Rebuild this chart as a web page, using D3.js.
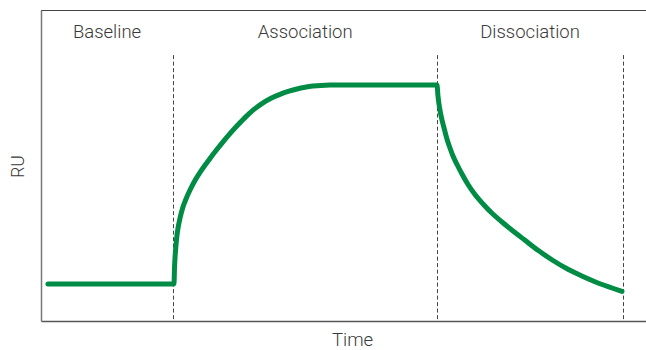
<!DOCTYPE html>
<html>
<head>
<meta charset="utf-8">
<script src="https://cdn.jsdelivr.net/npm/d3@7"></script>
<style>
  html, body { margin: 0; padding: 0; background: #fff; }
  svg { display: block; }
  text { font-family: "Helvetica Neue", Roboto, "Liberation Sans", Arial, sans-serif; font-weight: 300; fill: #3a3a3a; }
</style>
</head>
<body>
<svg id="chart" width="646" height="350"></svg>
<script>
// ---- Data (time in s, response in RU) ----
const phaseNames = ["Baseline", "Association", "Dissociation"];
const phaseBounds = [0, 131, 393, 577];   // phase start/end times (s)

const baselineTime = [6.9, 131.9];
const baselineRU   = [11.9, 11.9];

const assocTime = [131.9, 132.4, 132.9, 133.9, 134.9, 135.9, 137.9, 140.8, 143.8, 147.8, 152.7, 157.7, 162.6, 167.6, 173.6, 180.5, 187.4, 195.4, 203.3, 211.2, 220.2, 228.1, 237.0, 246.0, 253.9, 261.8, 269.8, 277.7, 286.6, 296.5, 392.7];
const assocRU   = [11.90, 17.04, 20.26, 24.44, 27.65, 29.90, 33.12, 36.66, 39.23, 42.12, 45.18, 47.75, 50.06, 52.28, 54.82, 57.62, 60.26, 63.09, 65.72, 68.04, 70.16, 71.64, 72.89, 73.89, 74.60, 75.14, 75.53, 75.76, 75.87, 75.88, 75.88];

const dissocTime = [392.7, 393.7, 394.7, 396.2, 397.7, 399.7, 402.6, 405.6, 408.6, 412.6, 417.5, 423.5, 430.4, 438.4, 447.3, 457.2, 468.1, 480.0, 492.9, 507.8, 522.6, 537.5, 552.4, 566.3, 576.2];
const dissocRU   = [75.88, 72.35, 69.77, 66.88, 64.63, 62.06, 58.52, 55.63, 53.05, 50.32, 47.27, 43.89, 40.67, 37.62, 34.63, 31.83, 28.94, 25.95, 22.73, 19.45, 16.62, 14.31, 12.22, 10.61, 9.49];

const xLabel = "Time";
const yLabel = "RU";

// ---- Layout ----
const svg = d3.select("#chart");
const W = 646, H = 350;
const margin = { top: 10, right: 0, bottom: 29, left: 41 };
const iw = W - margin.left - margin.right;
const ih = H - margin.top - margin.bottom;

const x = d3.scaleLinear().domain([0, 600]).range([0, iw]);
const y = d3.scaleLinear().domain([0, 100]).range([ih, 0]);

const g = svg.append("g").attr("transform", `translate(${margin.left},${margin.top})`);

// top frame line
g.append("line")
  .attr("x1", 0).attr("x2", iw).attr("y1", 0.5).attr("y2", 0.5)
  .attr("stroke", "#444").attr("stroke-width", 1);

// axes (no ticks)
const xAxis = g.append("g").attr("transform", `translate(0,${ih})`)
  .call(d3.axisBottom(x).tickValues([]).tickSizeOuter(0));
xAxis.select(".domain").attr("stroke", "#555").attr("stroke-width", 1.5);

const yAxis = g.append("g")
  .call(d3.axisLeft(y).tickValues([]).tickSizeOuter(0));
yAxis.select(".domain").attr("stroke", "#777").attr("stroke-width", 1.5);

// phase dividers (dashed)
const dividerTopRU = 85.5;
g.selectAll(".divider").data(phaseBounds.slice(1)).join("line")
  .attr("class", "divider")
  .attr("x1", d => Math.round(x(d)) + 0.5).attr("x2", d => Math.round(x(d)) + 0.5)
  .attr("y1", y(dividerTopRU)).attr("y2", ih)
  .attr("stroke", "#444").attr("stroke-width", 1)
  .attr("stroke-dasharray", "4,2.5");

// phase labels
g.selectAll(".phase").data(phaseNames).join("text")
  .attr("class", "phase")
  .attr("x", (d, i) => x((phaseBounds[i] + phaseBounds[i + 1]) / 2))
  .attr("y", 28)
  .attr("text-anchor", "middle")
  .attr("font-size", 18.5)
  .text(d => d);

// response curve
const pts = [];
baselineTime.forEach((t, i) => pts.push([t, baselineRU[i]]));
assocTime.slice(1).forEach((t, i) => pts.push([t, assocRU[i + 1]]));
dissocTime.slice(1).forEach((t, i) => pts.push([t, dissocRU[i + 1]]));

const line = d3.line().x(d => x(d[0])).y(d => y(d[1])).curve(d3.curveMonotoneX);
g.append("path")
  .datum(pts)
  .attr("d", line)
  .attr("fill", "none")
  .attr("stroke", "#008C44")
  .attr("stroke-width", 5)
  .attr("stroke-linecap", "round")
  .attr("stroke-linejoin", "round");

// axis labels
svg.append("text")
  .attr("x", margin.left + x(309))
  .attr("y", 346)
  .attr("text-anchor", "middle")
  .attr("font-size", 18.5)
  .text(xLabel);

svg.append("text")
  .attr("transform", `translate(24,${margin.top + ih / 2 + 1}) rotate(-90)`)
  .attr("text-anchor", "middle")
  .attr("font-size", 17.5)
  .text(yLabel);
</script>
</body>
</html>
